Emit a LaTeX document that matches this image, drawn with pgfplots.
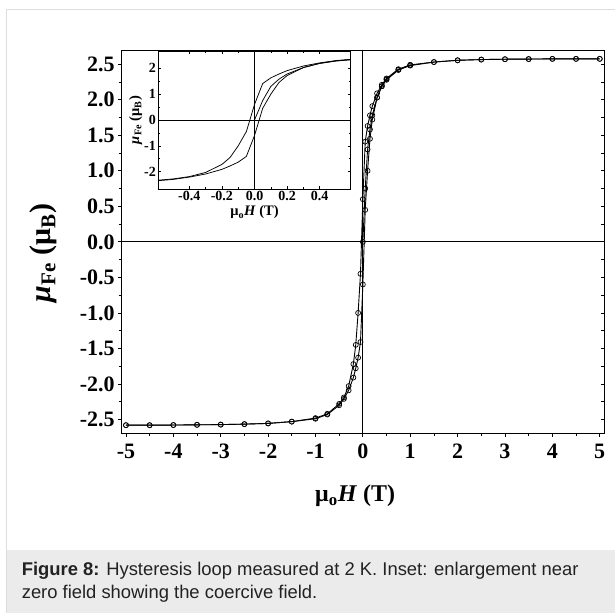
\documentclass[border=0pt]{standalone}
\usepackage{pgfplots}
\pgfplotsset{compat=1.18}
\usepackage{pgfplotstable}
\usepackage{fontspec}
\setmainfont{Liberation Serif}
\newfontfamily\capfont{Liberation Sans}
\definecolor{capbg}{HTML}{EBEBEB}
\definecolor{frameline}{HTML}{DDDDDD}
\definecolor{captext}{HTML}{222222}

% field sweep +5 T -> -5 T
\pgfplotstableread{
H M
5 2.575
4.5 2.575
4 2.575
3.5 2.572
3 2.57
2.5 2.565
2 2.555
1.5 2.53
1 2.49
0.75 2.43
0.5 2.30
0.4 2.21
0.3 2.09
0.2 1.91
0.15 1.78
0.1 1.63
0.05 1.41
0 0.60
-0.05 -0.45
-0.1 -1.00
-0.15 -1.45
-0.2 -1.72
-0.3 -2.03
-0.4 -2.19
-0.5 -2.28
-0.75 -2.42
-1 -2.48
-1.5 -2.53
-2 -2.555
-2.5 -2.565
-3 -2.572
-3.5 -2.575
-4 -2.578
-4.5 -2.58
-5 -2.58
}\descending

% field sweep -5 T -> +5 T
\pgfplotstableread{
H M
-5 -2.58
-4.5 -2.58
-4 -2.578
-3.5 -2.575
-3 -2.572
-2.5 -2.565
-2 -2.555
-1.5 -2.53
-1 -2.49
-0.75 -2.43
-0.5 -2.30
-0.4 -2.21
-0.3 -2.09
-0.2 -1.91
-0.15 -1.78
-0.1 -1.63
-0.05 -1.41
0 -0.60
0.05 0.45
0.1 1.00
0.15 1.45
0.2 1.72
0.3 2.03
0.4 2.19
0.5 2.28
0.75 2.42
1 2.48
1.5 2.53
2 2.555
2.5 2.565
3 2.57
3.5 2.572
4 2.575
4.5 2.575
5 2.575
}\ascending

% initial magnetisation curve
\pgfplotstableread{
H M
0 0
0.05 0.75
0.1 1.30
0.15 1.58
0.2 1.78
0.3 2.03
0.4 2.19
0.5 2.29
0.75 2.42
1 2.49
}\virgin

\tikzset{
  loopmarks/.style={black, line width=0.9pt, mark=o, mark size=2.5pt,
    mark options={fill=white, line width=0.7pt, solid}},
  loopline/.style={black, line width=0.75pt, mark=none},
}

\begin{document}
\begin{tikzpicture}
\useasboundingbox (0,0) rectangle (615pt,613pt);
\fill[white] (0,0) rectangle (615pt,613pt);
% figure frame and caption panel
\fill[capbg] (7pt,0) rectangle (615pt,63pt);
\draw[frameline, line width=1pt] (6pt,0) -- (6pt,603pt) -- (615pt,603pt);
\node[anchor=base west, inner sep=0pt, text=captext, font=\capfont\fontsize{18.4}{18.4}\selectfont]
  at (21.6pt,38pt) {\textbf{Figure 8:} Hysteresis loop measured at 2 K. Inset: enlargement near};
\node[anchor=base west, inner sep=0pt, text=captext, font=\capfont\fontsize{18.4}{18.4}\selectfont]
  at (21.6pt,14.4pt) {zero field showing the coercive field.};

% main loop
\begin{axis}[
  at={(121.7pt,180pt)}, anchor=south west,
  scale only axis, width=482.3pt, height=382.3pt,
  xmin=-5.09, xmax=5.09, ymin=-2.69, ymax=2.69,
  xtick={-5,...,5}, minor x tick num=1,
  ytick={-2.5,-2,...,2.5}, minor y tick num=1,
  xtick pos=bottom, ytick pos=left, tick align=outside,
  major tick length=3.5pt, minor tick length=3pt,
  axis line style={line width=0.8pt},
  every tick/.style={line width=0.8pt, black},
  /pgf/number format/assume math mode=true,
  ticklabel style={font=\bfseries\fontsize{22}{22}\selectfont},
  xticklabel style={yshift=-4pt},
  yticklabel style={/pgf/number format/fixed, /pgf/number format/fixed zerofill, /pgf/number format/precision=1},
  xlabel={\bfseries μ\textsubscript{o}\textit{H} (T)},
  xlabel style={at={(axis description cs:0.484,-0.18)}, anchor=base, font=\fontsize{24}{24}\selectfont},
  ylabel={\bfseries\textit{μ}\textsubscript{Fe} (μ\textsubscript{B})},
  ylabel style={at={(axis description cs:-0.163,0.471)}, anchor=center, font=\fontsize{30}{30}\selectfont},
  clip=false,
]
\draw[line width=0.9pt] (axis cs:-5.09,0) -- (axis cs:5.09,0);
\draw[line width=0.9pt] (axis cs:0,-2.69) -- (axis cs:0,2.69);
\addplot[loopmarks] table[x=H, y=M] {\descending};
\addplot[loopmarks] table[x=H, y=M] {\ascending};
\addplot[loopmarks] table[x=H, y=M] {\virgin};
\end{axis}

% inward ticks on the right-hand side
\begin{axis}[
  at={(121.7pt,180pt)}, anchor=south west,
  scale only axis, width=482.3pt, height=382.3pt,
  xmin=-5.09, xmax=5.09, ymin=-2.69, ymax=2.69,
  axis line style={draw=none}, xtick=\empty,
  ytick={-2.5,-2,...,2.5}, minor y tick num=1, yticklabels={},
  ytick pos=right, tick align=inside,
  major tick length=3.5pt, minor tick length=3pt,
  every tick/.style={line width=0.8pt, black},
]
\end{axis}

% inset: low-field region
\begin{axis}[
  at={(158.3pt,424pt)}, anchor=south west,
  scale only axis, width=192.4pt, height=138pt,
  xmin=-0.59, xmax=0.59, ymin=-2.67, ymax=2.67,
  axis background/.style={fill=white},
  xtick={-0.4,-0.2,0,0.2,0.4}, minor x tick num=1,
  ytick={-2,...,2}, minor y tick num=1,
  tick align=inside, major tick length=3pt, minor tick length=2pt,
  axis line style={line width=0.8pt},
  every tick/.style={line width=0.6pt, black},
  /pgf/number format/assume math mode=true,
  ticklabel style={font=\bfseries\fontsize{14}{14}\selectfont},
  xticklabel style={/pgf/number format/fixed, /pgf/number format/fixed zerofill, /pgf/number format/precision=1, yshift=1pt},
  yticklabel style={xshift=1pt},
  xlabel={\bfseries μ\textsubscript{o}\textit{H} (T)},
  xlabel style={font=\fontsize{14.5}{14.5}\selectfont, yshift=2pt},
  ylabel={\bfseries\textit{μ}\textsubscript{Fe} (μ\textsubscript{B})},
  ylabel style={font=\fontsize{14.5}{14.5}\selectfont, yshift=-5pt},
]
\draw[line width=0.9pt] (axis cs:-0.59,0) -- (axis cs:0.59,0);
\draw[line width=0.9pt] (axis cs:0,-2.67) -- (axis cs:0,2.67);
\addplot[loopline] table[x=H, y=M] {\descending};
\addplot[loopline] table[x=H, y=M] {\ascending};
\addplot[loopline] table[x=H, y=M] {\virgin};
\end{axis}
\end{tikzpicture}
\end{document}
